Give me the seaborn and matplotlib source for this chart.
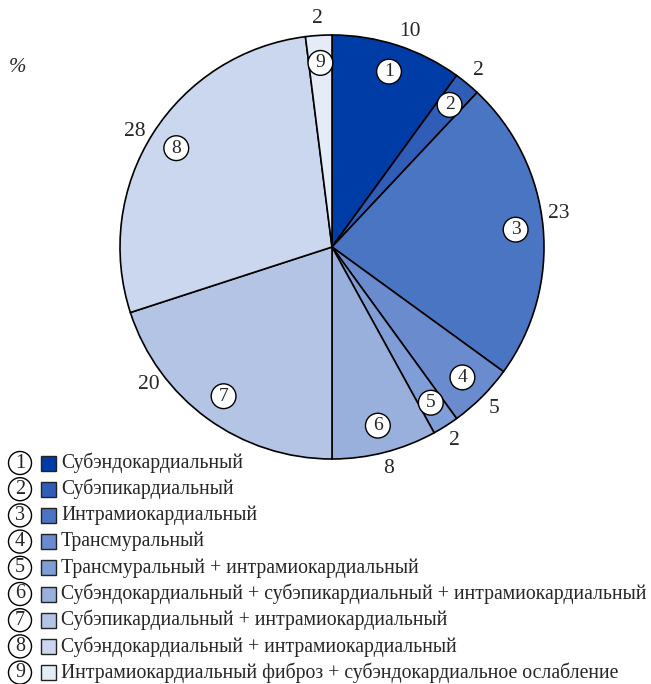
import matplotlib
matplotlib.use("Agg")
import matplotlib.pyplot as plt
from matplotlib.patches import Rectangle
import numpy as np
import seaborn as sns

sns.set_style("white")
plt.rcParams["font.family"] = ["Liberation Serif", "DejaVu Serif"]

# Distribution of late gadolinium enhancement patterns, %
numbers = ["1", "2", "3", "4", "5", "6", "7", "8", "9"]
values = [10, 2, 23, 5, 2, 8, 20, 28, 2]
categories = [
    "Субэндокардиальный",
    "Субэпикардиальный",
    "Интрамиокардиальный",
    "Трансмуральный",
    "Трансмуральный + интрамиокардиальный",
    "Субэндокардиальный + субэпикардиальный + интрамиокардиальный",
    "Субэпикардиальный + интрамиокардиальный",
    "Субэндокардиальный + интрамиокардиальный",
    "Интрамиокардиальный фиброз + субэндокардиальное ослабление",
]
colors = ["#003CA6", "#2F5DB8", "#4A75C3", "#6A8BCE", "#7F9DD6",
          "#99B0DD", "#B3C4E5", "#CAD7EE", "#E5ECF7"]

# angular nudges (degrees) for the outer value labels
label_shift = [-2, 0, 3, 0, 0, 0, -17, 2, 0]

W, H = 651, 684
fig = plt.figure(figsize=(W / 100, H / 100), dpi=100)

# Pie axes: centre (332, 247) px, radius 212 px
cx, cy, r = 332, 247, 212
ax = fig.add_axes([(cx - r) / W, 1 - (cy + r) / H, 2 * r / W, 2 * r / H])
wedges, _ = ax.pie(values, colors=colors, startangle=90, counterclock=False,
                   radius=1.0,
                   wedgeprops=dict(edgecolor="black", linewidth=1.2))
ax.set_xlim(-1, 1)
ax.set_ylim(-1, 1)
ax.set_aspect("equal")
ax.axis("off")

for w, num, v, sh in zip(wedges, numbers, values, label_shift):
    mid = (w.theta1 + w.theta2) / 2
    ang = np.deg2rad(mid)
    ax.text(0.87 * np.cos(ang), 0.87 * np.sin(ang), num, ha="center",
            va="center", fontsize=14,
            bbox=dict(boxstyle="circle,pad=0.2", fc="white", ec="black", lw=1.0))
    a2 = np.deg2rad(mid + sh)
    ax.text(1.08 * np.cos(a2), 1.08 * np.sin(a2), str(v), ha="center",
            va="center", fontsize=15.5)

fig.text(17 / W, 1 - 68 / H, "%", ha="center", va="center",
         fontsize=15, style="italic")

# Legend with circled numbers and colour squares
y0, dy = 463, 26.2
for i, (num, lab, col) in enumerate(zip(numbers, categories, colors)):
    yy = 1 - (y0 + i * dy) / H
    fig.text(20 / W, yy, num, ha="center", va="center", fontsize=14.5,
             bbox=dict(boxstyle="circle,pad=0.1", fc="white", ec="black", lw=1.0))
    s = 15
    fig.patches.append(Rectangle((41 / W, yy - (s / 2) / H), s / W, s / H,
                                 transform=fig.transFigure, fc=col,
                                 ec="#222222", lw=1.0))
    fig.text(61 / W, yy, lab, ha="left", va="center", fontsize=14.2)

fig.savefig("out.png", dpi=100)
